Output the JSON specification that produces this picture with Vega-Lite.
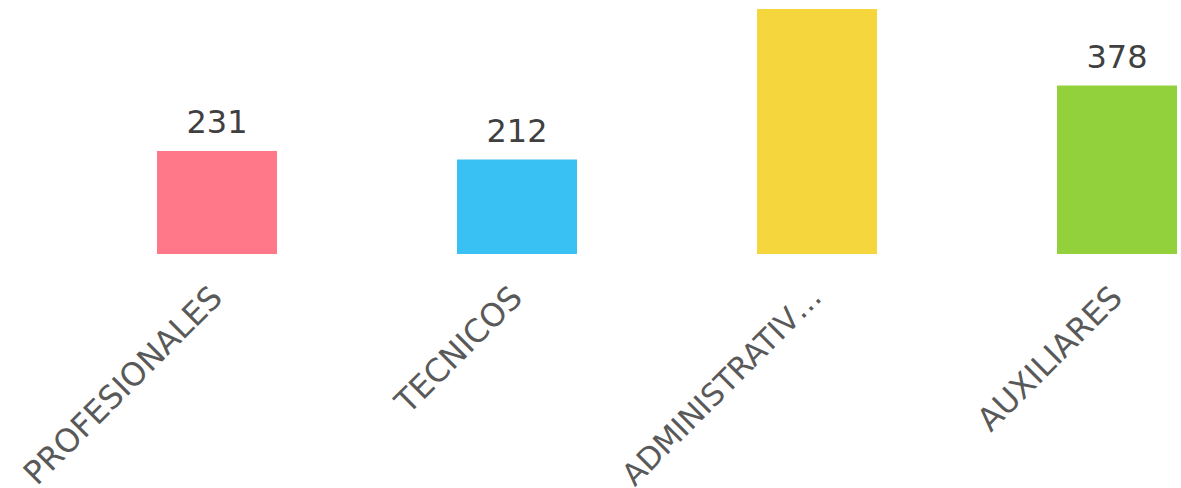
{
  "$schema": "https://vega.github.io/schema/vega-lite/v6.json",
  "width": 1020,
  "height": 254,
  "autosize": {"type": "none"},
  "padding": {"left": 157, "top": 0, "right": 4, "bottom": 234},
  "background": "white",
  "config": {"view": {"stroke": null}, "font": "DejaVu Sans"},
  "data": {
    "values": [
      {"cargo": "PROFESIONALES", "total": 231},
      {"cargo": "TECNICOS", "total": 212},
      {"cargo": "ADMINISTRATIVOS", "total": 550},
      {"cargo": "AUXILIARES", "total": 378}
    ]
  },
  "encoding": {
    "x": {
      "field": "cargo",
      "type": "nominal",
      "sort": null,
      "scale": {"paddingInner": 0.6, "paddingOuter": 0},
      "axis": {
        "title": null,
        "domain": false,
        "ticks": false,
        "labelAngle": -45,
        "labelAlign": "right",
        "labelBaseline": "middle",
        "labelFontSize": {"expr": "datum.value === 'ADMINISTRATIVOS' ? 30.5 : 32"},
        "labelColor": "#595959",
        "labelFont": "DejaVu Sans",
        "labelPadding": 38,
        "labelLimit": 276
      }
    },
    "y": {
      "field": "total",
      "type": "quantitative",
      "scale": {"domain": [0, 570], "nice": false},
      "axis": null
    }
  },
  "layer": [
    {
      "mark": {"type": "bar"},
      "encoding": {
        "color": {
          "field": "cargo",
          "type": "nominal",
          "scale": {
            "domain": ["PROFESIONALES", "TECNICOS", "ADMINISTRATIVOS", "AUXILIARES"],
            "range": ["#FF788A", "#38C1F2", "#F6D63D", "#92D13B"]
          },
          "legend": null
        }
      }
    },
    {
      "mark": {"type": "text", "baseline": "alphabetic", "dy": -18, "fontSize": 32, "color": "#404040", "font": "DejaVu Sans", "clip": true},
      "encoding": {"text": {"field": "total", "type": "quantitative"}}
    }
  ]
}
